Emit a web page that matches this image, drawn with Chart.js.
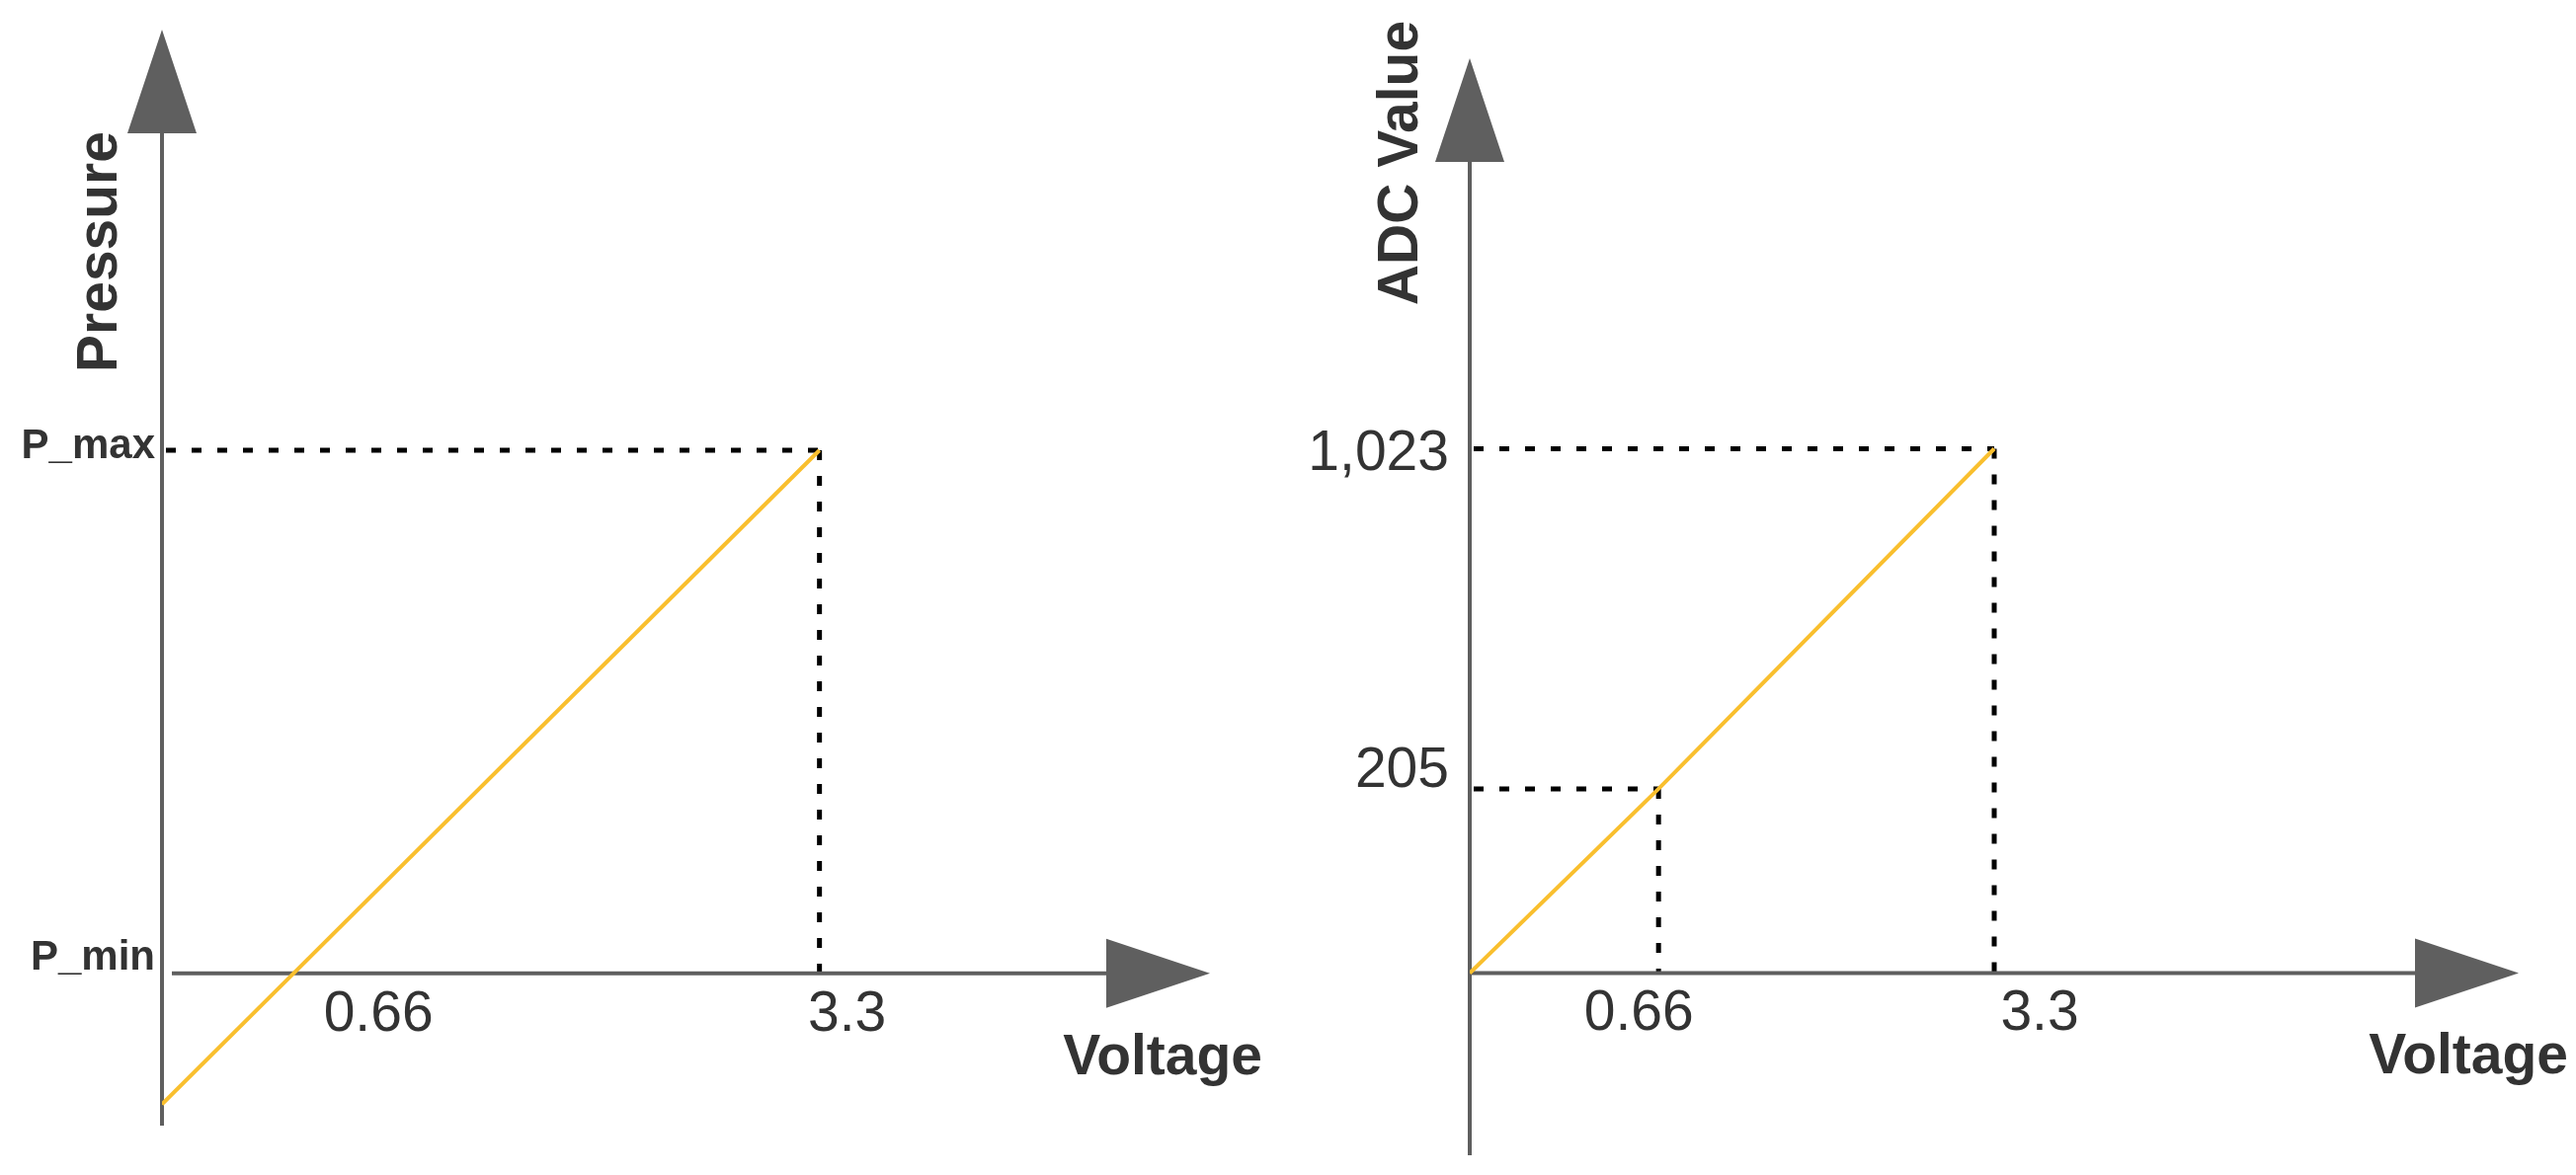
<!DOCTYPE html>
<html>
<head>
<meta charset="utf-8">
<script src="https://cdn.jsdelivr.net/npm/chart.js@4"></script>
<style>
  html, body { margin: 0; padding: 0; background: #fff; overflow: hidden; }
  canvas { position: absolute; top: 0; }
  #left { left: 0; }
  #right { left: 1304px; }
</style>
</head>
<body>
<canvas id="left" width="1304" height="1190"></canvas>
<canvas id="right" width="1304" height="1190"></canvas>
<script>
// left panel: pressure vs voltage (P_min = 0, P_max = 1)
var pressureVoltage = [0, 0.66, 3.3];
var pressureValues = [-0.25, 0, 1];
var pressureTicks = ['P_min', 'P_max'];

// right panel: ADC value vs voltage
var adcVoltage = [0, 0.66, 3.3];
var adcValues = [0, 205, 1023];
var adcTicks = ['205', '1,023'];
var voltageTicks = ['0.66', '3.3'];

var AXIS = '#5f5f5f';
var TEXT = '#333333';
var LINE = '#f9bf2e';

// piecewise linear scale: the right diagram is schematic, not to scale
class PiecewiseScale extends Chart.LinearScale {
    _frac(v) {
        var b = this.options.breaks;
        if (v <= b[0][0]) return b[0][1];
        for (var i = 1; i < b.length; i++) {
            if (v <= b[i][0]) {
                var t = (v - b[i - 1][0]) / (b[i][0] - b[i - 1][0]);
                return b[i - 1][1] + t * (b[i][1] - b[i - 1][1]);
            }
        }
        return b[b.length - 1][1];
    }
    getPixelForValue(v) {
        var f = this._frac(v);
        return this.isHorizontal() ? this.left + f * this.width : this.bottom - f * this.height;
    }
}
PiecewiseScale.id = 'piecewise';
PiecewiseScale.defaults = {};
Chart.register(PiecewiseScale);

function dashed(ctx, x1, y1, x2, y2) {
    ctx.save();
    ctx.strokeStyle = '#000';
    ctx.lineWidth = 5;
    ctx.setLineDash([10, 16]);
    ctx.beginPath();
    ctx.moveTo(x1, y1);
    ctx.lineTo(x2, y2);
    ctx.stroke();
    ctx.restore();
}

function text(ctx, str, x, y, font, align, rot) {
    ctx.save();
    ctx.fillStyle = TEXT;
    ctx.font = font;
    ctx.textAlign = align;
    ctx.textBaseline = 'middle';
    ctx.translate(x, y);
    if (rot) ctx.rotate(rot);
    ctx.fillText(str, 0, 0);
    ctx.restore();
}

function diagramPlugin(cfg) {
    return {
        id: 'diagram',
        beforeDatasetsDraw: function (chart) {
            var ctx = chart.ctx, a = chart.chartArea;
            var xs = chart.scales.x, ys = chart.scales.y;
            var x0 = xs.getPixelForValue(0), y0 = ys.getPixelForValue(0);

            // guide lines
            cfg.guides.forEach(function (g) {
                var gx = xs.getPixelForValue(g[0]), gy = ys.getPixelForValue(g[1]);
                dashed(ctx, x0 + 4, gy, gx, gy);
                dashed(ctx, gx, gy, gx, y0);
            });

            // axes
            ctx.save();
            ctx.strokeStyle = AXIS;
            ctx.fillStyle = AXIS;
            ctx.lineWidth = 4;
            ctx.beginPath();
            ctx.moveTo(x0, a.bottom);
            ctx.lineTo(x0, a.top + 100);
            ctx.moveTo(x0 + cfg.xGap, y0);
            ctx.lineTo(a.right - 100, y0);
            ctx.stroke();
            ctx.beginPath();
            ctx.moveTo(x0, a.top);
            ctx.lineTo(x0 - 35, a.top + 105);
            ctx.lineTo(x0 + 35, a.top + 105);
            ctx.closePath();
            ctx.fill();
            ctx.beginPath();
            ctx.moveTo(a.right, y0);
            ctx.lineTo(a.right - 105, y0 - 35);
            ctx.lineTo(a.right - 105, y0 + 35);
            ctx.closePath();
            ctx.fill();
            ctx.restore();

            // tick labels
            cfg.xLabels.forEach(function (l, i) {
                text(ctx, l, xs.getPixelForValue(cfg.xTickVals[i]) + cfg.xLabelShift[i], y0 + 42,
                    '57px "Liberation Sans", Arial, sans-serif', 'center');
            });
            cfg.yLabels.forEach(function (l, i) {
                text(ctx, l, cfg.yLabelRight, ys.getPixelForValue(cfg.yTickVals[i]) + cfg.yLabelShift[i],
                    cfg.yFont, 'right');
            });

            // axis titles
            text(ctx, 'Voltage', a.right + cfg.titleRight, y0 + 86,
                'bold 57px "Liberation Sans", Arial, sans-serif', 'right');
            text(ctx, cfg.yTitle, x0 - cfg.yTitleOff, cfg.yTitleY,
                'bold 57px "Liberation Sans", Arial, sans-serif', 'center', -Math.PI / 2);
        }
    };
}

function makeChart(id, xs, ys, xScale, yScale, padding, cfg) {
    return new Chart(document.getElementById(id), {
        type: 'line',
        data: {
            datasets: [{
                data: xs.map(function (x, i) { return { x: x, y: ys[i] }; }),
                borderColor: LINE,
                borderWidth: 4,
                pointRadius: 0,
                tension: 0
            }]
        },
        options: {
            responsive: false,
            animation: false,
            devicePixelRatio: 1,
            layout: { padding: padding },
            plugins: { legend: { display: false }, tooltip: { enabled: false } },
            scales: { x: xScale, y: yScale }
        },
        plugins: [diagramPlugin(cfg)]
    });
}

makeChart('left', pressureVoltage, pressureValues,
    { type: 'linear', display: false, min: 0, max: 5.26 },
    { type: 'linear', display: false, min: -0.291, max: 1.804 },
    { left: 164, right: 79, top: 30, bottom: 50 },
    {
        guides: [[3.3, 1]],
        xGap: 10,
        xTickVals: [0.66, 3.3], xLabels: voltageTicks, xLabelShift: [86, 28],
        yTickVals: [0, 1], yLabels: pressureTicks, yLabelShift: [-15, -4],
        yLabelRight: 157, yFont: 'bold 42px "Liberation Sans", Arial, sans-serif',
        yTitle: 'Pressure', yTitleOff: 62, yTitleY: 255, titleRight: 53
    });

makeChart('right', adcVoltage, adcValues,
    { type: 'piecewise', display: false, min: 0, max: 6.6,
      breaks: [[0, 0], [0.66, 0.18], [3.3, 0.5], [6.6, 1]] },
    { type: 'piecewise', display: false, min: -200, max: 1700,
      breaks: [[-200, 0], [0, 0.166], [205, 0.334], [1023, 0.644], [1700, 1]] },
    { left: 184, right: 58, top: 59, bottom: 20 },
    {
        guides: [[0.66, 205], [3.3, 1023]],
        xGap: 0,
        xTickVals: [0.66, 3.3], xLabels: voltageTicks, xLabelShift: [-20, 46],
        yTickVals: [205, 1023], yLabels: adcTicks, yLabelShift: [-18, 6],
        yLabelRight: 163, yFont: '57px "Liberation Sans", Arial, sans-serif',
        yTitle: 'ADC Value', yTitleOff: 69, yTitleY: 165, titleRight: 50
    });
</script>
</body>
</html>
